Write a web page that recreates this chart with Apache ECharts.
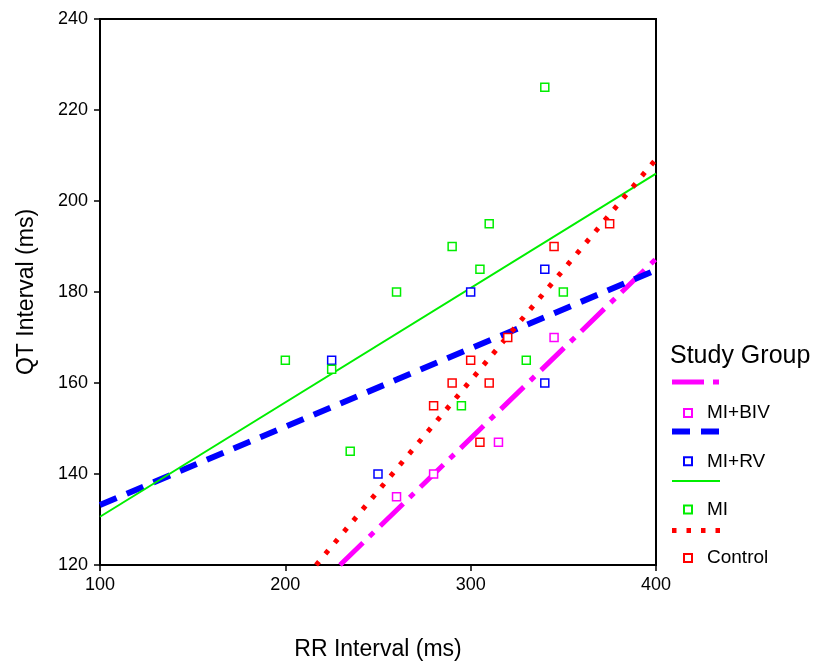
<!DOCTYPE html>
<html>
<head>
<meta charset="utf-8">
<script src="https://cdn.jsdelivr.net/npm/echarts@6/dist/echarts.min.js"></script>
<style>
  html, body { margin: 0; padding: 0; background: #fff; }
  #chart { width: 816px; height: 663px; }
</style>
</head>
<body>
<div id="chart"></div>
<script>
  // points: [RR, QT]
  const biv = [[260, 135], [280, 140], [315, 147], [345, 170]];
  const rv = [[225, 165], [250, 140], [300, 180], [340, 185], [340, 160]];
  const mi = [[200, 165], [225, 163], [235, 145], [260, 180], [290, 190], [295, 155],
              [305, 185], [310, 195], [330, 165], [340, 225], [350, 180]];
  const control = [[280, 155], [290, 160], [300, 165], [305, 147], [310, 160],
                   [320, 170], [345, 190], [375, 195]];

  // fit lines, end points
  const bivFit = [[229.5, 120], [400, 187.3]];
  const rvFit = [[100, 133.2], [400, 184.8]];
  const miFit = [[100, 130.6], [400, 206]];
  const controlFit = [[216.6, 120], [400, 209.2]];

  const xTicks = [100, 200, 300, 400];
  const yTicks = [120, 140, 160, 180, 200, 220, 240];

  const groups = [
    { name: 'MI+BIV', color: '#ff00ff', pts: biv, fit: bivFit, width: 5, dash: [32, 9, 6, 9] },
    { name: 'MI+RV', color: '#0000ff', pts: rv, fit: rvFit, width: 6, dash: [18, 11] },
    { name: 'MI', color: '#00ee00', pts: mi, fit: miFit, width: 2, dash: 'solid' },
    { name: 'Control', color: '#ff0000', pts: control, fit: controlFit, width: 5, dash: [4.5, 10] }
  ];

  const font = 'Liberation Sans, Arial, sans-serif';
  const chart = echarts.init(document.getElementById('chart'));

  let series = [];
  groups.forEach(g => {
    series.push({
      name: g.name + ' fit',
      type: 'line',
      data: g.fit,
      symbol: 'none',
      silent: true,
      z: 2,
      lineStyle: { color: g.color, width: g.width, type: g.dash, cap: 'butt' }
    });
  });
  groups.forEach(g => {
    series.push({
      name: g.name,
      type: 'scatter',
      data: g.pts,
      symbol: 'rect',
      symbolSize: 8,
      z: 3,
      itemStyle: { color: '#fff', borderColor: g.color, borderWidth: 1.5, opacity: 1 }
    });
  });

  // line samples for the legend
  let graphic = [{
    type: 'text', left: 670, top: 344,
    style: { text: 'Study Group', font: '25px ' + font, fill: '#000' }
  }];
  groups.forEach((g, i) => {
    let y = 382 + i * 49.5;
    graphic.push({
      type: 'line',
      shape: { x1: 672, y1: y, x2: 720, y2: y },
      style: {
        stroke: g.color, lineWidth: g.width, lineCap: 'butt',
        lineDash: g.dash === 'solid' ? null : g.dash
      }
    });
  });

  chart.setOption({
    animation: false,
    textStyle: { fontFamily: font },
    grid: {
      left: 100, right: 160, top: 19, bottom: 98,
      outerBoundsMode: 'none',
      containLabel: false,
      show: true, borderColor: '#000', borderWidth: 2
    },
    legend: {
      orient: 'vertical',
      left: 678,
      top: 398,
      itemGap: 28.3,
      itemWidth: 8,
      itemHeight: 8,
      icon: 'rect',
      data: groups.map(g => g.name),
      textStyle: { fontSize: 19, color: '#000', lineHeight: 20, padding: [0, 0, 0, 10], fontFamily: font }
    },
    xAxis: {
      type: 'value',
      min: xTicks[0], max: xTicks[xTicks.length - 1], interval: 100,
      name: 'RR Interval (ms)',
      nameLocation: 'middle',
      nameGap: 73,
      nameTextStyle: { fontSize: 23, color: '#000' },
      axisLine: { lineStyle: { color: '#000', width: 2 } },
      axisTick: { show: true, length: 6, lineStyle: { color: '#000', width: 1.5 } },
      axisLabel: { fontSize: 18, color: '#000', margin: 11 },
      splitLine: { show: false }
    },
    yAxis: {
      type: 'value',
      min: yTicks[0], max: yTicks[yTicks.length - 1], interval: 20,
      name: 'QT Interval (ms)',
      nameLocation: 'middle',
      nameGap: 62,
      nameTextStyle: { fontSize: 23, color: '#000' },
      axisLine: { show: true, lineStyle: { color: '#000', width: 2 } },
      axisTick: { show: true, length: 6, lineStyle: { color: '#000', width: 1.5 } },
      axisLabel: { fontSize: 18, color: '#000', margin: 12 },
      splitLine: { show: false }
    },
    graphic: graphic,
    series: series
  });
</script>
</body>
</html>
